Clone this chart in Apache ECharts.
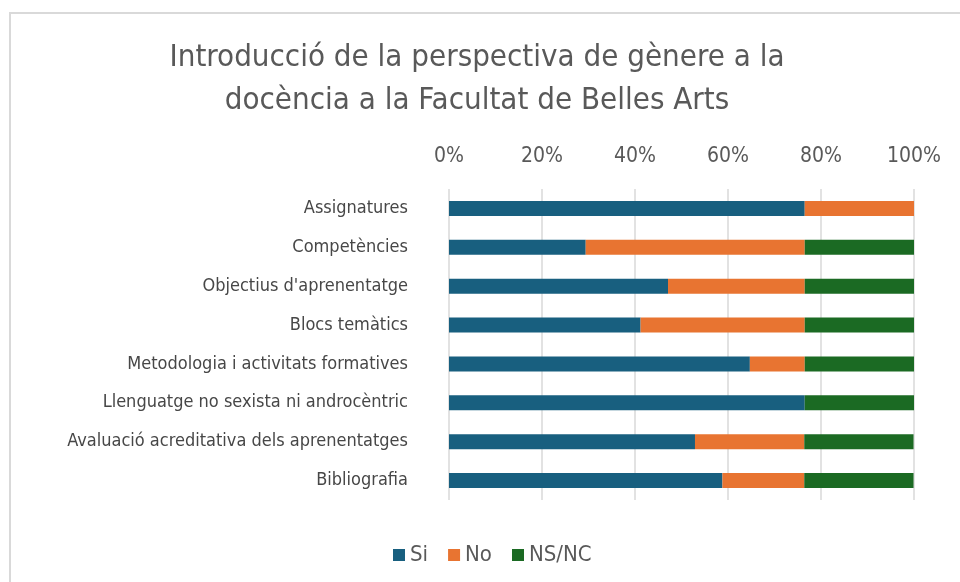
<!DOCTYPE html>
<html>
<head>
<meta charset="utf-8">
<script src="https://cdn.jsdelivr.net/npm/echarts@6/dist/echarts.min.js"></script>
<style>
  html, body { margin: 0; padding: 0; background: #fff; }
  #chart { width: 960px; height: 582px; }
</style>
</head>
<body>
<div id="chart"></div>
<script>
// categories, top to bottom
const categories = [
  'Assignatures',
  'Competències',
  "Objectius d'aprenentatge",
  'Blocs temàtics',
  'Metodologia i activitats formatives',
  'Llenguatge no sexista ni androcèntric',
  'Avaluació acreditativa dels aprenentatges',
  'Bibliografia'
]

// percentages
const siValues = [76.5, 29.4, 47.1, 41.2, 64.7, 76.5, 52.9, 58.8]
const noValues = [23.5, 47.1, 29.4, 35.3, 11.8, 0, 23.5, 17.6]
const nsncValues = [0, 23.5, 23.5, 23.5, 23.5, 23.5, 23.5, 23.5]

const seriesNames = ['Si', 'No', 'NS/NC']
const xTicks = [0, 20, 40, 60, 80, 100]

const FONT = "'Liberation Sans Narrow', 'Arial Narrow', 'DejaVu Sans Condensed', sans-serif"
const TEXT_COLOR = '#595959'
const colors = ['#185f7f', '#e87431', '#1b6a23']

const mychart = echarts.init(document.getElementById('chart'))

function makeSeries(name, data, color) {
  return {
    name: name,
    type: 'bar',
    stack: 'total',
    barWidth: 15,
    itemStyle: { color: color },
    data: data
  }
}

const option = {
  animation: false,
  color: colors,
  textStyle: { fontFamily: FONT },
  title: {
    text: 'Introducció de la perspectiva de gènere a la\ndocència a la Facultat de Belles Arts',
    left: 472,
    textAlign: 'center',
    top: 31,
    textStyle: {
      fontFamily: FONT,
      fontSize: 31,
      fontWeight: 'normal',
      color: TEXT_COLOR,
      lineHeight: 43
    }
  },
  legend: {
    data: seriesNames,
    left: 388,
    top: 539,
    icon: 'rect',
    itemWidth: 12,
    itemHeight: 12,
    itemGap: 20,
    textStyle: { fontFamily: FONT, fontSize: 22, color: TEXT_COLOR }
  },
  graphic: [
    {
      type: 'rect',
      shape: { x: 10, y: 13, width: 1000, height: 620 },
      style: { fill: 'none', stroke: '#d9d9d9', lineWidth: 2 },
      silent: true
    }
  ],
  grid: {
    left: 449,
    right: 46,
    top: 189,
    height: 311
  },
  xAxis: {
    type: 'value',
    position: 'top',
    min: xTicks[0],
    max: xTicks[xTicks.length - 1],
    interval: 20,
    axisLine: { show: false },
    axisTick: { show: false },
    splitLine: { lineStyle: { color: '#d9d9d9', width: 1.5 } },
    axisLabel: {
      formatter: '{value}%',
      fontFamily: FONT,
      fontSize: 21,
      color: TEXT_COLOR,
      margin: 22
    }
  },
  yAxis: {
    type: 'category',
    inverse: true,
    data: categories,
    axisLine: { show: false },
    axisTick: { show: false },
    axisLabel: {
      fontFamily: FONT,
      fontSize: 18,
      color: '#474747',
      margin: 41
    }
  },
  series: [
    makeSeries(seriesNames[0], siValues, colors[0]),
    makeSeries(seriesNames[1], noValues, colors[1]),
    makeSeries(seriesNames[2], nsncValues, colors[2])
  ]
}

mychart.setOption(option)
</script>
</body>
</html>
